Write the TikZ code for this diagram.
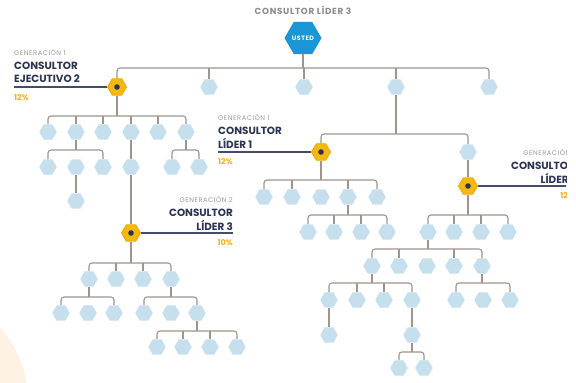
\documentclass[tikz,border=0pt]{standalone}
\usepackage{fontspec}
\newfontfamily\pop{Poppins}
\newfontfamily\popsp[LetterSpace=8]{Poppins}
\usetikzlibrary{shapes.geometric}
\definecolor{hexblue}{HTML}{C6DFEC}
\definecolor{conn}{HTML}{A0948C}
\definecolor{ublue}{HTML}{1A96D4}
\definecolor{goldc}{HTML}{F5B80F}
\definecolor{goldd}{HTML}{EFA800}
\definecolor{navy}{HTML}{2B3450}
\definecolor{lline}{HTML}{434D6A}
\definecolor{titlegray}{HTML}{8C8C8C}
\definecolor{gengray}{HTML}{9A9A9A}
\definecolor{pctgold}{HTML}{F2B21C}
\definecolor{peach}{HTML}{FDF2E3}
\newcommand\famlink[4][17]{%
  \coordinate (#3bar) at ([yshift=#1pt]#3.center);
  \draw[cline] (#2) -- (#2 |- #3bar);
  \draw[cline,rounded corners=3pt] (#3) -- (#3bar) -- (#4 |- #3bar) -- (#4);
}
\newcommand\midlinks[2]{\foreach \c in {#2} {\draw[cline] (\c) -- (\c |- #1bar);}}
\begin{document}
\begin{tikzpicture}[x=1pt,y=-1pt,
  hex/.style={shape=regular polygon, regular polygon sides=6, minimum size=17.5pt, inner sep=0pt, fill=hexblue},
  goldhex/.style={hex, fill=goldc, draw=goldd, line width=0.8pt, minimum size=19pt},
  cline/.style={draw=conn, line width=1.1pt},
  labline/.style={draw=lline, line width=1.6pt},
  gen/.style={font=\popsp\fontsize{6.7}{8}\selectfont, text=gengray, inner sep=0pt},
  lbl/.style={font=\pop\bfseries\fontsize{10.4}{12}\selectfont, text=navy, inner sep=0pt},
  pct/.style={font=\pop\bfseries\fontsize{8}{9}\selectfont, text=pctgold, inner sep=0pt}]
\fill[white] (0,0) rectangle (576,383);
\useasboundingbox (0,0) rectangle (576,383);
\begin{scope}
\clip (0,0) rectangle (576,383);
\fill[peach] (-80,400) circle (108pt);
\end{scope}
% title and root
\node[font=\popsp\bfseries\fontsize{8.8}{10}\selectfont, text=titlegray, inner sep=0pt] (title) at (303,10) {CONSULTOR LÍDER 3};
\node[hex, minimum size=37pt, fill=ublue, font=\popsp\bfseries\fontsize{6.3}{7}\selectfont, text=white] (usted) at (303,38) {USTED};
% generation row
\node[goldhex] (g1) at (117,87) {};
\node[hex] (t2) at (209,87) {};
\node[hex] (t3) at (304,87) {};
\node[hex] (t4) at (396,87) {};
\node[hex] (t5) at (489,87) {};
% left subtree
\foreach \n/\x in {a1/48,a2/76,a3/103,a4/131,a5/158,a6/186} \node[hex] (\n) at (\x,132) {};
\foreach \n/\x in {a21/48,a22/76,a23/103,a41/131,a61/172,a62/199} \node[hex] (\n) at (\x,167) {};
\node[hex] (a221) at (76,201) {};
\node[goldhex] (g2) at (131,233) {};
\foreach \n/\x in {b1/89,b2/116,b3/143,b4/171} \node[hex] (\n) at (\x,279) {};
\foreach \n/\x in {b11/61,b12/88,b13/114,b41/144,b42/171,b43/197} \node[hex] (\n) at (\x,313) {};
\foreach \n/\x in {b431/157,b432/183,b433/210,b434/237} \node[hex] (\n) at (\x,347) {};
% right subtree
\node[goldhex] (g3) at (321,152) {};
\node[hex] (c2) at (468,152) {};
\node[goldhex] (g4) at (468,186) {};
\foreach \n/\x in {d1/264,d2/292,d3/321,d4/348,d5/377} \node[hex] (\n) at (\x,197) {};
\foreach \n/\x in {d41/308,d42/334,d43/361,d44/387} \node[hex] (\n) at (\x,232) {};
\foreach \n/\x in {e1/428,e2/454,e3/481,e4/508} \node[hex] (\n) at (\x,232) {};
\foreach \n/\x in {e11/372,e12/399,e13/427,e14/454,e15/482} \node[hex] (\n) at (\x,266) {};
\foreach \n/\x in {f1/329,f2/357,f3/384,f4/412,h1/456,h2/483,h3/510} \node[hex] (\n) at (\x,300) {};
\node[hex] (f11) at (329,335) {};
\node[hex] (f41) at (412,335) {};
\node[hex] (f411) at (399,368) {};
\node[hex] (f412) at (424,368) {};
% connectors
\famlink[19]{usted}{g1}{t5} \midlinks{g1}{t2,t3,t4}
\famlink[16]{g1}{a1}{a6} \midlinks{a1}{a2,a3,a4,a5}
\famlink{a2}{a21}{a23}
\draw[cline] (a22) -- (a221);
\draw[cline] (a4) -- (a41);
\draw[cline] (a41) -- (g2);
\famlink{a6}{a61}{a62}
\famlink[16]{g2}{b1}{b4} \midlinks{b1}{b2,b3}
\famlink[16]{b1}{b11}{b13}
\famlink[16]{b4}{b41}{b43}
\famlink[16]{b43}{b431}{b434} \midlinks{b431}{b432,b433}
\famlink[18]{t4}{g3}{c2}
\draw[cline] (c2) -- (g4);
\famlink{g3}{d1}{d5} \midlinks{d1}{d2,d4}
\famlink{d4}{d41}{d44} \midlinks{d41}{d42,d43}
\famlink{g4}{e1}{e4} \midlinks{e1}{e2,e3}
\famlink{e1}{e11}{e15} \midlinks{e11}{e12,e14}
\famlink{e11}{f1}{f4} \midlinks{f1}{f2,f3}
\draw[cline] (f1) -- (f11);
\draw[cline] (f4) -- (f41);
\famlink[16]{f41}{f411}{f412}
\famlink{e15}{h1}{h3}
% gold dots
\foreach \g in {g1,g2,g3,g4} \fill[navy] (\g) circle (2.8pt);
% labels: left
\coordinate (l1) at (14,87);
\draw[labline] (l1) -- (g1);
\node[gen, anchor=west] (l1gen) at (14,52) {GENERACIÓN 1};
\node[lbl, anchor=west] (l1a) at (14,65.5) {CONSULTOR};
\node[lbl, anchor=west] (l1b) at (14,78.5) {EJECUTIVO 2};
\node[pct, anchor=west] (l1p) at (14,97.5) {12\%};
% labels: middle
\coordinate (l2) at (218,152);
\draw[labline] (l2) -- (g3);
\node[gen, anchor=west] (l2gen) at (218,117) {GENERACIÓN 1};
\node[lbl, anchor=west] (l2a) at (218,130.5) {CONSULTOR};
\node[lbl, anchor=west] (l2b) at (218,143.5) {LÍDER 1};
\node[pct, anchor=west] (l2p) at (218,162) {12\%};
% labels: generation 2
\coordinate (l3) at (233,233);
\draw[labline] (g2) -- (l3);
\node[gen, anchor=east] (l3gen) at (233,199) {GENERACIÓN 2};
\node[lbl, anchor=east] (l3a) at (233,212.5) {CONSULTOR};
\node[lbl, anchor=east] (l3b) at (233,225.5) {LÍDER 3};
\node[pct, anchor=east] (l3p) at (233,242.5) {10\%};
% labels: right (cut by the picture's edge, as in the reference)
\begin{scope}
\clip (0,0) rectangle (566,383);
\coordinate (l4) at (590,186);
\draw[labline] (g4) -- (l4);
\node[gen, anchor=east] (l4gen) at (575,152) {GENERACIÓN 1};
\node[lbl, anchor=east] (l4a) at (575,165.5) {CONSULTOR};
\node[lbl, anchor=east] (l4b) at (575,178) {LÍDER 1};
\node[pct, anchor=east] (l4p) at (575,196) {12\%};
\end{scope}
\end{tikzpicture}
\end{document}
